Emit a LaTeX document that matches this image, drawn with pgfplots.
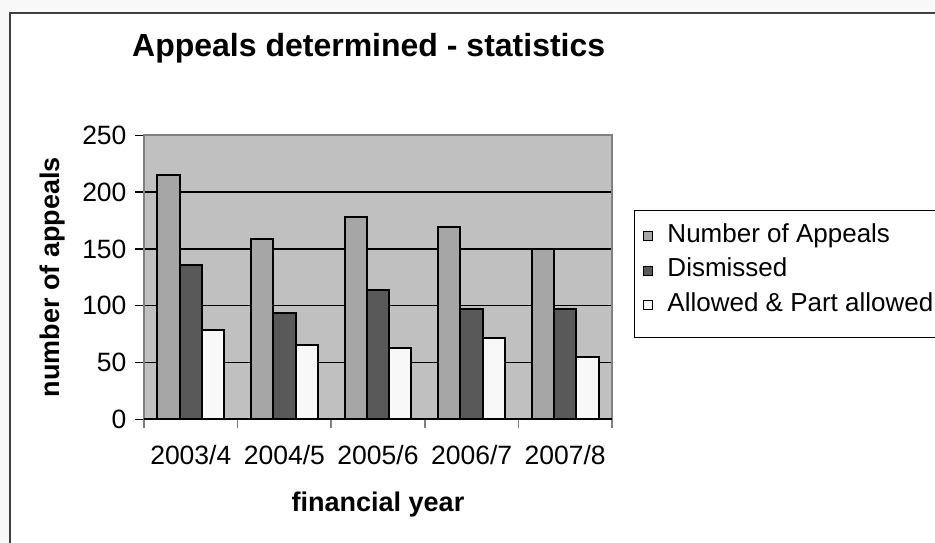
\documentclass[border=0pt]{standalone}
\usepackage{fontspec}
\setmainfont{Liberation Sans}
\usepackage{pgfplots}
\pgfplotsset{compat=1.18}

\definecolor{plotbg}{HTML}{C0C0C0}
\definecolor{serA}{HTML}{A6A6A6}
\definecolor{serB}{HTML}{595959}
\definecolor{serC}{HTML}{F8F8F8}
\definecolor{outerbg}{HTML}{F8F8F8}
\definecolor{framecol}{HTML}{404040}
\definecolor{boxcol}{HTML}{808080}

\begin{document}
\begin{tikzpicture}
% chart area and its frame (page is 935 x 543, axis box at 144..612 / 135..419)
\fill[outerbg] (-144pt,-123.7pt) rectangle (791pt,419.3pt);
\fill[white] (-134pt,-123.7pt) rectangle (791pt,406.3pt);
\draw[framecol, line width=2pt] (-134pt,-140pt) -- (-134pt,406.3pt) -- (800pt,406.3pt);

\begin{axis}[
    at={(0pt,0pt)}, anchor=south west,
    scale only axis,
    width=468pt, height=284pt,
    axis background/.style={fill=plotbg},
    axis line style={boxcol, line width=2pt},
    ybar=0pt, bar width=22.3pt,
    xmin=-0.5, xmax=4.5,
    ymin=0, ymax=250,
    ytick={0,50,...,250},
    xtick={-0.5,0.5,...,4.5},
    x tick label as interval,
    xticklabels={2003/4,2004/5,2005/6,2006/7,2007/8},
    tick pos=left,
    tick align=outside,
    major tick length=9pt,
    xtick style={boxcol, line width=1.5pt},
    ytick style={black, line width=1.5pt},
    ymajorgrids,
    grid style={black, line width=1.5pt},
    /pgf/number format/assume math mode=true,
    tick label style={font=\fontsize{26.5}{31}\selectfont},
    xticklabel style={yshift=-13pt},
    yticklabel style={xshift=-5pt},
    xlabel={financial year},
    ylabel={number of appeals},
    label style={font=\bfseries\fontsize{27}{32}\selectfont},
    xlabel style={at={(axis description cs:0.5,-0.3254)}, anchor=base},
    ylabel style={at={(axis description cs:-0.1795,0.5)}, anchor=base},
    legend style={
        at={(axis description cs:1.047,0.737)}, anchor=north west,
        draw=black, line width=1pt, fill=white,
        font=\fontsize{26}{31}\selectfont,
        inner xsep=9pt, inner ysep=13pt,
        row sep=2pt,
        nodes={inner sep=0pt, text height=19pt, text depth=13.5pt},
        /tikz/every odd column/.append style={column sep=14pt},
    },
    legend cell align=left,
    legend image code/.code={\draw[#1, line width=1pt] (0pt,-1pt) rectangle (9pt,8pt);},
]
\addplot[fill=serA, draw=black, line width=2pt] coordinates {
    (0,215) (1,159) (2,178) (3,169) (4,150)
};
\addlegendentry{Number of Appeals}
\addplot[fill=serB, draw=black, line width=2pt] coordinates {
    (0,136) (1,94) (2,114) (3,97) (4,97)
};
\addlegendentry{Dismissed}
\addplot[fill=serC, draw=black, line width=2pt] coordinates {
    (0,79) (1,65) (2,63) (3,72) (4,55)
};
\addlegendentry{Allowed \& Part allowed}
\draw[black, line width=2pt] (rel axis cs:0,0) -- (rel axis cs:1,0);
\end{axis}

\node[anchor=base west, inner sep=0pt, font=\bfseries\fontsize{32}{38}\selectfont]
    at (-12pt,362.3pt) {Appeals determined - statistics};

\pgfresetboundingbox
\useasboundingbox (-144pt,-123.7pt) rectangle (791pt,419.3pt);
\end{tikzpicture}
\end{document}
